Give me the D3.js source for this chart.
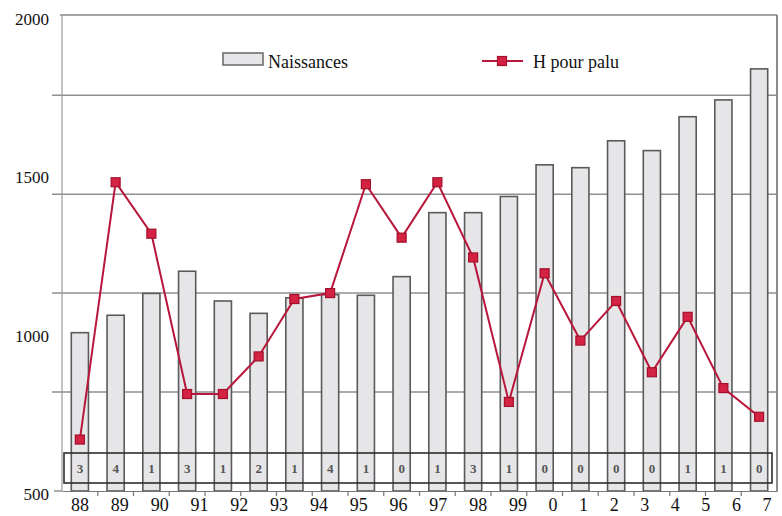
<!DOCTYPE html>
<html>
<head>
<meta charset="utf-8">
<script src="https://cdn.jsdelivr.net/npm/d3@7"></script>
<style>
  html, body { margin: 0; padding: 0; background: #fff; }
  svg { display: block; }
  svg text { font-family: "Liberation Serif", "Times New Roman", "DejaVu Serif", serif; }
</style>
</head>
<body>
<svg id="chart" width="782" height="516"></svg>
<script>
// Years (x categories)
const years = ["88", "89", "90", "91", "92", "93", "94", "95", "96", "97",
               "98", "99", "0", "1", "2", "3", "4", "5", "6", "7"];
// Births per year (left axis)
const naissances = [1000, 1055, 1124, 1194, 1100, 1061, 1110, 1120, 1118, 1177,
                    1379, 1379, 1430, 1530, 1521, 1606, 1575, 1682, 1735, 1833];
// Malaria hospitalisations per year (right scale)
const hPalu = [26, 156, 130, 49, 49, 68, 97, 100, 155, 128,
               156, 118, 45, 110, 76, 96, 60, 88, 52, 37.5];
// Values shown in the data row under the bars
const tableRow = [3, 4, 1, 3, 1, 2, 1, 4, 1, 0, 1, 3, 1, 0, 0, 0, 0, 1, 1, 0];
// Left axis tick labels
const leftTicks = [500, 1000, 1500, 2000];
// Right scale gridline values
const rightGrid = [50, 100, 150, 200];

const serif = "'Liberation Serif', 'Times New Roman', serif";
const svg = d3.select("#chart");
const plotLeft = 62, plotRight = 777, plotTop = 16, plotBottom = 491;

const x = d3.scaleBand().domain(years).range([plotLeft, plotRight])
  .paddingInner(0.52).paddingOuter(0.26);
const yL = d3.scaleLinear().domain([500, 2000]).range([plotBottom, plotTop]);
const yR = d3.scaleLinear().domain([0, 240]).range([plotBottom, plotTop]);
// Year labels sit on their own positions along the bottom
const labelX = d3.scaleLinear().domain([0, 11, 12, 19]).range([80, 518, 553, 767]);

// Frame: top line and right axis line
svg.append("line").attr("x1", plotLeft - 2).attr("x2", plotRight).attr("y1", 15).attr("y2", 15)
  .attr("stroke", "#8a8a8a").attr("stroke-width", 1.5);
svg.append("line").attr("x1", plotRight).attr("x2", plotRight).attr("y1", 15).attr("y2", plotBottom)
  .attr("stroke", "#666").attr("stroke-width", 1.5);

// Horizontal gridlines (right scale), extending a little past the left axis
svg.append("g").selectAll("line").data(rightGrid).join("line")
  .attr("x1", plotLeft - 10).attr("x2", plotRight)
  .attr("y1", d => yR(d)).attr("y2", d => yR(d))
  .attr("stroke", "#8f8f8f").attr("stroke-width", 1.5);

// Left axis line
svg.append("line").attr("x1", plotLeft).attr("x2", plotLeft).attr("y1", 15).attr("y2", plotBottom)
  .attr("stroke", "#9a9a9a").attr("stroke-width", 1.2);

// Bars
svg.append("g").selectAll("rect").data(naissances).join("rect")
  .attr("x", (d, i) => x(years[i]))
  .attr("y", d => yL(d))
  .attr("width", x.bandwidth())
  .attr("height", d => plotBottom - yL(d))
  .attr("fill", "#e6e6e8")
  .attr("stroke", "#5a5a5a")
  .attr("stroke-width", 1.6);

// Data row box
svg.append("rect").attr("x", 64).attr("y", 453).attr("width", 708).attr("height", 30)
  .attr("fill", "none").attr("stroke", "#2e2e2e").attr("stroke-width", 1.6);
svg.append("g").selectAll("text").data(tableRow).join("text")
  .attr("x", (d, i) => x(years[i]) + x.bandwidth() / 2)
  .attr("y", 473)
  .attr("text-anchor", "middle")
  .attr("font-family", serif)
  .attr("font-size", 13).attr("font-weight", "bold")
  .attr("fill", "#555")
  .text(d => d);

// Bottom axis: baseline and ticks at category boundaries
const xAxis = d3.axisBottom(x).tickSize(0).tickFormat("");
const gx = svg.append("g").attr("transform", `translate(0,${plotBottom})`).call(xAxis);
gx.select(".domain").attr("stroke", "#777").attr("stroke-width", 1.2);
svg.append("g").selectAll("line").data(years.slice(1)).join("line")
  .attr("x1", d => x(d) - x.step() * x.paddingInner() / 2)
  .attr("x2", d => x(d) - x.step() * x.paddingInner() / 2)
  .attr("y1", plotBottom).attr("y2", plotBottom + 5)
  .attr("stroke", "#777").attr("stroke-width", 1.2);
svg.append("line").attr("x1", plotLeft - 8).attr("x2", plotLeft).attr("y1", plotBottom).attr("y2", plotBottom)
  .attr("stroke", "#777").attr("stroke-width", 1.2);

// Year labels
svg.append("g").selectAll("text").data(years).join("text")
  .attr("x", (d, i) => labelX(i))
  .attr("y", 511)
  .attr("text-anchor", "middle")
  .attr("font-family", serif)
  .attr("font-size", 18).attr("fill", "#111")
  .text(d => d);

// Left axis labels
svg.append("g").selectAll("text").data(leftTicks).join("text")
  .attr("x", 49)
  .attr("y", d => yL(d) + 3)
  .attr("dy", "0.35em")
  .attr("text-anchor", "end")
  .attr("font-family", serif)
  .attr("font-size", 17).attr("fill", "#111")
  .text(d => d);

// Hospitalisation line with square markers
const cx = (d, i) => x(years[i]) + x.bandwidth() / 2;
const line = d3.line().x(cx).y(d => yR(d));
svg.append("path").datum(hPalu)
  .attr("d", line)
  .attr("fill", "none")
  .attr("stroke", "#b8163a").attr("stroke-width", 2);
const ms = 9;
svg.append("g").selectAll("rect").data(hPalu).join("rect")
  .attr("x", (d, i) => cx(d, i) - ms / 2)
  .attr("y", d => yR(d) - ms / 2)
  .attr("width", ms).attr("height", ms)
  .attr("fill", "#d42242").attr("stroke", "#a3102c").attr("stroke-width", 1.2);

// Legend
const lg = svg.append("g");
lg.append("rect").attr("x", 223).attr("y", 53).attr("width", 40).attr("height", 12)
  .attr("fill", "#e6e6e8").attr("stroke", "#666").attr("stroke-width", 1.5);
lg.append("text").attr("x", 268).attr("y", 68).attr("font-family", serif)
  .attr("font-size", 18).attr("fill", "#111")
  .text("Naissances");
lg.append("line").attr("x1", 482).attr("x2", 523).attr("y1", 61).attr("y2", 61)
  .attr("stroke", "#b8163a").attr("stroke-width", 2);
lg.append("rect").attr("x", 497.5).attr("y", 56.5).attr("width", ms).attr("height", ms)
  .attr("fill", "#d42242").attr("stroke", "#a3102c").attr("stroke-width", 1.2);
lg.append("text").attr("x", 533).attr("y", 68).attr("font-family", serif)
  .attr("font-size", 18).attr("fill", "#111")
  .text("H pour palu");
</script>
</body>
</html>
